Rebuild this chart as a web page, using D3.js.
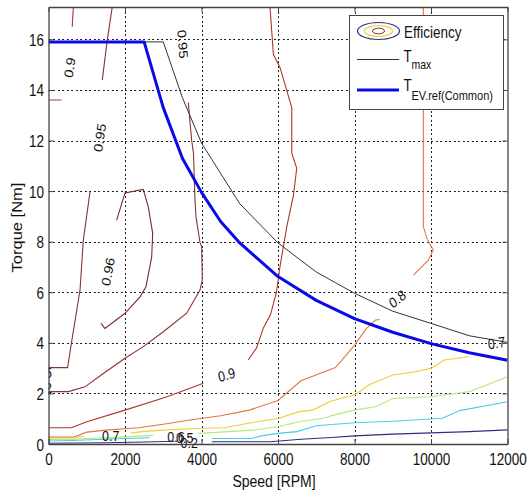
<!DOCTYPE html>
<html>
<head>
<meta charset="utf-8">
<script src="https://cdn.jsdelivr.net/npm/d3@7"></script>
<style>
  html, body { margin: 0; padding: 0; background: #fff; }
  svg { display: block; font-family: "Liberation Sans", Arial, Helvetica, sans-serif; }
</style>
</head>
<body>
<svg id="chart" width="529" height="495"></svg>
<script>
// ── Axis ticks ────────────────────────────────────────────────────────────────
const speedTicks  = [0, 2000, 4000, 6000, 8000, 10000, 12000];
const torqueTicks = [0, 2, 4, 6, 8, 10, 12, 14, 16];

// ── Torque envelopes [speed, torque] ──────────────────────────────────────────
const tmaxCurve = [
  [0, 15.9], [3000, 15.9], [3500, 13.7], [4000, 11.9], [5000, 9.5], [6000, 7.95],
  [7000, 6.8], [8000, 5.96], [9000, 5.25], [10000, 4.77], [11000, 4.28], [12000, 4.02]
];
const tevRefCurve = [
  [0, 15.9], [2500, 15.9], [3000, 13.3], [3500, 11.3], [4000, 9.95], [4500, 8.8],
  [5000, 7.95], [6000, 6.62], [7000, 5.68], [8000, 4.96], [9000, 4.42], [10000, 3.97],
  [11000, 3.61], [12000, 3.31]
];

// ── Efficiency contour pieces [speed, torque] ─────────────────────────────────
const eff096 = [
  [1372, 4.77], [1477, 4.57], [2000, 5.17], [2392, 5.82], [2549, 6.22], [2698, 7.4],
  [2724, 8.33], [2609, 9.38], [2478, 10.07], [2000, 9.93], [1782, 8.85]
];
const eff095Left = [
  [0, 3.02], [500, 3.02], [600, 4.0], [825, 6.1], [910, 8.06], [1085, 9.97]
];
const eff095LeftTop = [[1407, 14.4], [1530, 15.9], [1668, 17.3]];
const eff095Right = [
  [3655, 13.5], [3743, 12.0], [3790, 11.5], [3830, 9.64], [3856, 8.98], [3960, 7.97],
  [4005, 7.8], [4021, 6.48], [3960, 6.09], [3613, 5.17], [3001, 4.44], [2478, 3.85],
  [2000, 3.39], [1433, 2.79], [954, 2.26], [518, 2.07], [0, 2.07]
];
const eff09Low = [
  [0, 0.64], [600, 0.64], [1000, 0.88], [2000, 1.34], [3100, 1.87], [4050, 2.4]
];
const eff09Mid = [
  [5220, 3.32], [5440, 3.8], [5620, 4.6], [5800, 5.1], [5960, 6.0], [6050, 7.0],
  [6140, 7.8], [6230, 8.6], [6400, 9.8], [6490, 10.9], [6360, 11.5], [6360, 13.3],
  [6050, 14.9], [5880, 15.4], [5790, 17.3]
];
const eff09TopA = [[650, 17.3], [620, 16.5]];
const eff09TopB = [[340, 13.6], [0, 13.6]];
const eff08Low = [
  [0, 0.27], [650, 0.27], [1000, 0.47], [1500, 0.55], [2350, 0.64], [3000, 0.78],
  [3700, 0.95], [4500, 1.12], [5250, 1.34], [6000, 1.72], [6600, 2.5], [7500, 3.02],
  [8000, 3.9], [8300, 4.55], [8550, 4.9], [8650, 4.92]
];
const eff08High = [
  [9800, 17.3], [9800, 12.0], [9800, 8.6], [9900, 8.1], [10060, 7.67], [9930, 7.27],
  [9540, 6.68]
];
const eff07A = [[0, 0.24], [650, 0.24], [900, 0.3]];
const eff07B = [
  [2150, 0.43], [2500, 0.5], [3000, 0.55], [4000, 0.62], [4600, 0.64], [5300, 0.84],
  [6000, 1.01], [6550, 1.28], [6900, 1.34], [7350, 1.67], [7650, 1.81], [8000, 1.94],
  [8400, 2.35], [9000, 2.73], [9600, 2.86], [10000, 2.99], [10350, 3.32], [11000, 3.45]
];
const eff06A = [[0, 0.18], [600, 0.18], [1000, 0.22], [2000, 0.28], [2750, 0.34]];
const eff06B = [
  [3900, 0.42], [4500, 0.47], [5350, 0.55], [6000, 0.68], [6550, 0.88], [7150, 1.01],
  [7600, 1.2], [8000, 1.34], [8550, 1.47], [9000, 1.8], [10000, 1.87], [11000, 2.07],
  [12000, 2.66]
];
const eff05A = [[0, 0.12], [600, 0.14], [1300, 0.18], [2000, 0.22], [2650, 0.25]];
const eff05B = [
  [4270, 0.22], [5300, 0.22], [5600, 0.33], [6000, 0.42], [6500, 0.49], [7000, 0.72],
  [8000, 0.84], [9000, 0.9], [10000, 0.99], [10300, 1.02], [10750, 1.32], [12000, 1.67]
];
const eff02A = [[0, 0.03], [1500, 0.05], [2500, 0.08], [3300, 0.11]];
const eff02B = [
  [4270, 0.09], [5800, 0.09], [6600, 0.19], [7400, 0.26], [8000, 0.32], [9000, 0.39],
  [10000, 0.44], [11000, 0.49], [12000, 0.56]
];

const contourPieces = [
  { level: 0.96, pts: eff096 },
  { level: 0.95, pts: eff095Left },
  { level: 0.95, pts: eff095LeftTop },
  { level: 0.95, pts: eff095Right },
  { level: 0.9,  pts: eff09Low },
  { level: 0.9,  pts: eff09Mid },
  { level: 0.9,  pts: eff09TopA },
  { level: 0.9,  pts: eff09TopB },
  { level: 0.8,  pts: eff08Low },
  { level: 0.8,  pts: eff08High },
  { level: 0.7,  pts: eff07A },
  { level: 0.7,  pts: eff07B },
  { level: 0.6,  pts: eff06A },
  { level: 0.6,  pts: eff06B },
  { level: 0.5,  pts: eff05A },
  { level: 0.5,  pts: eff05B },
  { level: 0.2,  pts: eff02A },
  { level: 0.2,  pts: eff02B },
];

// inline contour labels: text, speed, torque, angle
const labelTexts  = ['0.9', '0.95', '0.95', '0.96', '0.9', '0.8', '0.7', '0.7', '0.6', '0.5', '0.2'];
const labelSpeed  = [562, 1346, 3503, 1563, 4658, 9123, 11716, 1626, 3333, 3560, 3680];
const labelTorque = [14.88, 12.11, 15.81, 6.81, 2.73, 5.73, 3.98, 0.31, 0.26, 0.22, 0.04];
const labelAngle  = [-80, -80, 85, -78, -14, -35, -8, 0, 0, 0, 0];

// label fragments cut off by the left axis
const edgeTexts  = ['5', '2'];
const edgeTorque = [2.82, 2.2];

// ── Styles ────────────────────────────────────────────────────────────────────
const LEVEL_COLOR = {
  0.96: '#7a2a2a', 0.95: '#8a3232', 0.9: '#a8392c', 0.8: '#e2773f',
  0.7: '#efcc3c', 0.6: '#b2ea7c', 0.5: '#4acde2', 0.2: '#2e2e7e'
};
const STRETCH = 1.18;   // the reference is squashed horizontally
const FONT = 13.5;

// ── Layout ────────────────────────────────────────────────────────────────────
const svg = d3.select('#chart');
const X0 = 48.5, X1 = 507.5, Y0 = 444, Y1 = 7;

const x = d3.scaleLinear().domain([0, 12000]).range([X0, X1]);
const y = d3.scaleLinear().domain([0, 17.28]).range([Y0, Y1]);

svg.append('rect').attr('width', 529).attr('height', 495).attr('fill', '#fff');

svg.append('defs').append('clipPath').attr('id', 'plotClip')
  .append('rect').attr('x', X0).attr('y', Y1).attr('width', X1 - X0).attr('height', Y0 - Y1);

// ── Grid ──────────────────────────────────────────────────────────────────────
const grid = svg.append('g').attr('stroke', '#222').attr('stroke-width', 1)
  .attr('stroke-dasharray', '2,2.5').attr('shape-rendering', 'crispEdges');
grid.selectAll('line.gx').data(speedTicks.slice(1, -1)).join('line')
  .attr('class', 'gx')
  .attr('x1', d => Math.round(x(d)) + 0.5).attr('x2', d => Math.round(x(d)) + 0.5)
  .attr('y1', Y1).attr('y2', Y0);
grid.selectAll('line.gy').data(torqueTicks.slice(1)).join('line')
  .attr('class', 'gy')
  .attr('y1', d => Math.round(y(d)) + 0.5).attr('y2', d => Math.round(y(d)) + 0.5)
  .attr('x1', X0).attr('x2', X1);

// ── Contours ──────────────────────────────────────────────────────────────────
const line = d3.line().x(d => x(d[0])).y(d => y(d[1]));
const plot = svg.append('g').attr('clip-path', 'url(#plotClip)');

plot.selectAll('path.contour').data(contourPieces).join('path')
  .attr('class', 'contour')
  .attr('d', d => line(d.pts))
  .attr('fill', 'none')
  .attr('stroke', d => LEVEL_COLOR[d.level])
  .attr('stroke-width', 1.1);

plot.append('path').attr('d', line(tmaxCurve))
  .attr('fill', 'none').attr('stroke', '#333').attr('stroke-width', 1);

plot.append('path').attr('d', line(tevRefCurve))
  .attr('fill', 'none').attr('stroke', '#0a0ae6').attr('stroke-width', 3)
  .attr('stroke-linejoin', 'round');

plot.selectAll('text.edge').data(edgeTexts).join('text')
  .attr('class', 'edge')
  .attr('text-anchor', 'end').attr('dominant-baseline', 'central')
  .attr('font-size', 12.5).attr('fill', '#111')
  .attr('transform', (d, i) => `translate(${X0 + 3.5},${y(edgeTorque[i])}) scale(1,${STRETCH})`)
  .text(d => d);

// ── Contour labels ────────────────────────────────────────────────────────────
svg.append('g').selectAll('text').data(labelTexts).join('text')
  .attr('text-anchor', 'middle').attr('dominant-baseline', 'central')
  .attr('font-size', 12.5).attr('fill', '#111')
  .attr('transform', (d, i) =>
    `translate(${x(labelSpeed[i])},${y(labelTorque[i])}) scale(1,${STRETCH}) rotate(${labelAngle[i]})`)
  .text(d => d);

// ── Axes (box, inward ticks) ──────────────────────────────────────────────────
const axisColor = '#444';
const axBottom = svg.append('g').attr('transform', `translate(0,${Y0})`)
  .call(d3.axisBottom(x).tickValues(speedTicks).tickFormat(d3.format('d'))
    .tickSizeInner(-5).tickSizeOuter(0));
const axLeft = svg.append('g').attr('transform', `translate(${X0},0)`)
  .call(d3.axisLeft(y).tickValues(torqueTicks).tickFormat(d3.format('d'))
    .tickSizeInner(-5).tickSizeOuter(0));
const axTop = svg.append('g').attr('transform', `translate(0,${Y1})`)
  .call(d3.axisTop(x).tickValues(speedTicks).tickSizeInner(-5).tickSizeOuter(0).tickFormat(''));
const axRight = svg.append('g').attr('transform', `translate(${X1},0)`)
  .call(d3.axisRight(y).tickValues(torqueTicks).tickSizeInner(-5).tickSizeOuter(0).tickFormat(''));

[axBottom, axLeft, axTop, axRight].forEach(g => {
  g.select('.domain').attr('stroke', axisColor).attr('stroke-width', 1.3);
  g.selectAll('.tick line').attr('stroke', axisColor);
  g.attr('font-family', null);
});

axBottom.selectAll('.tick text')
  .attr('y', null).attr('dy', null)
  .attr('font-size', FONT).attr('fill', '#111')
  .attr('transform', `translate(0,21) scale(1,${STRETCH})`);
axLeft.selectAll('.tick text')
  .attr('x', null).attr('dy', null)
  .attr('font-size', FONT).attr('fill', '#111')
  .attr('transform', `translate(-4.5,6) scale(1,${STRETCH})`);

// ── Axis titles ───────────────────────────────────────────────────────────────
svg.append('text')
  .attr('text-anchor', 'middle').attr('font-size', 14).attr('fill', '#111')
  .attr('transform', `translate(${(X0 + X1) / 2 - 4},487) scale(1,${STRETCH})`)
  .text('Speed [RPM]');
svg.append('text')
  .attr('text-anchor', 'middle').attr('font-size', 14).attr('fill', '#111')
  .attr('transform', `translate(21.5,${(Y0 + Y1) / 2 + 2}) rotate(-90) scale(${STRETCH},1)`)
  .text('Torque [Nm]');

// ── Legend ────────────────────────────────────────────────────────────────────
const legend = svg.append('g');
legend.append('rect')
  .attr('x', 349.5).attr('y', 15.5).attr('width', 154).attr('height', 94)
  .attr('fill', '#fff').attr('stroke', '#444').attr('stroke-width', 1);

// efficiency icon: nested rings
const icon = legend.append('g').attr('transform', 'translate(378.5,31)').attr('fill', 'none');
icon.append('ellipse').attr('rx', 21).attr('ry', 8.5).attr('stroke', LEVEL_COLOR[0.2]).attr('stroke-width', 1.2);
icon.append('ellipse').attr('rx', 14).attr('ry', 5.5).attr('stroke', LEVEL_COLOR[0.7]).attr('stroke-width', 1.2);
icon.append('ellipse').attr('rx', 6).attr('ry', 2.8).attr('stroke', LEVEL_COLOR[0.96]).attr('stroke-width', 1);

legend.append('line').attr('x1', 357).attr('x2', 399).attr('y1', 59.5).attr('y2', 59.5)
  .attr('stroke', '#333').attr('stroke-width', 1);
legend.append('line').attr('x1', 357).attr('x2', 399).attr('y1', 90).attr('y2', 90)
  .attr('stroke', '#0a0ae6').attr('stroke-width', 3);

const legendText = (tx, ty, size, str) => legend.append('text')
  .attr('font-size', size).attr('fill', '#111')
  .attr('transform', `translate(${tx},${ty}) scale(1,${STRETCH})`)
  .text(str);

legendText(404, 37.5, 13.5, 'Efficiency');
legendText(403.5, 61.5, 13.5, 'T');
legendText(411.5, 68.5, 10.5, 'max');
legendText(403.5, 90.5, 13.5, 'T');
legendText(411.5, 100, 11, 'EV.ref(Common)');
</script>
</body>
</html>
